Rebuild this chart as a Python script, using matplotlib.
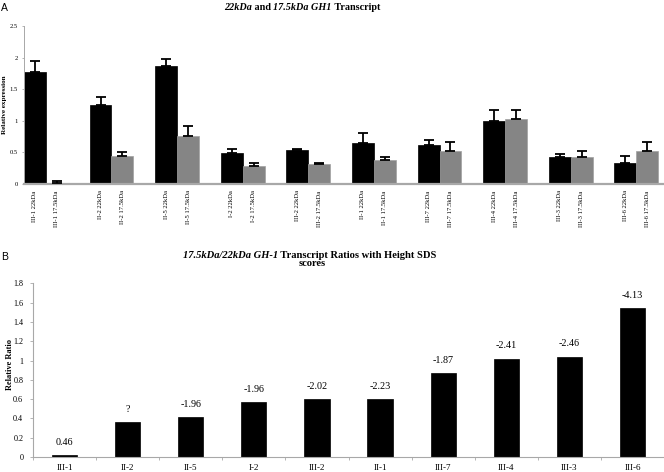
import matplotlib
matplotlib.use("Agg")
import matplotlib.pyplot as plt
import numpy as np

# ---------------- data ----------------
subjects_a = ["III-1", "II-2", "II-5", "I-2", "III-2", "II-1", "III-7", "III-4", "III-3", "III-6"]
expr_22 = [1.78, 1.25, 1.87, 0.49, 0.54, 0.65, 0.61, 1.00, 0.42, 0.34]
err_22 = [0.16, 0.13, 0.10, 0.06, 0.02, 0.15, 0.08, 0.17, 0.05, 0.10]
expr_175 = [0.02, 0.45, 0.76, 0.28, 0.32, 0.38, 0.53, 1.03, 0.43, 0.53]
err_175 = [0.03, 0.06, 0.15, 0.05, 0.015, 0.05, 0.13, 0.14, 0.10, 0.13]

subjects_b = ["III-1", "II-2", "II-5", "I-2", "III-2", "II-1", "III-7", "III-4", "III-3", "III-6"]
ratios = [0.02, 0.36, 0.41, 0.57, 0.60, 0.60, 0.87, 1.02, 1.04, 1.54]
sds_labels = ["0.46", "?", "-1.96", "-1.96", "-2.02", "-2.23", "-1.87", "-2.41", "-2.46", "-4.13"]

W, H = 664, 472
SERIF = "Liberation Serif"
SANS = "Liberation Sans"
GREY_BAR = "#858585"
AXIS_GREY = "#a8a8a8"

fig = plt.figure(figsize=(W / 100, H / 100), dpi=100)

# ---------------- panel A ----------------
axA = fig.add_axes([24 / W, 1 - 184 / H, (W - 24) / W, (184 - 26) / H])
xa22 = np.arange(len(subjects_a)) * 3 + 0.5
xa17 = np.arange(len(subjects_a)) * 3 + 1.5
axA.bar(xa22, expr_22, width=1.0, color="black", edgecolor="black", linewidth=0.5, zorder=2)
axA.bar(xa17, expr_175, width=1.0, color=GREY_BAR, edgecolor="#a0a0a0", linewidth=0.5, zorder=2)
axA.errorbar(xa22, expr_22, yerr=[np.zeros(len(err_22)), err_22], fmt="none",
             ecolor="black", elinewidth=1.3, capsize=3.3, capthick=1.3, zorder=3)
axA.errorbar(xa17, expr_175, yerr=[np.zeros(len(err_175)), err_175], fmt="none",
             ecolor="black", elinewidth=1.3, capsize=3.3, capthick=1.3, zorder=3)
axA.set_xlim(0, (W - 24) / 21.87)
axA.set_ylim(0, 2.5)
axA.set_yticks([0, 0.5, 1, 1.5, 2, 2.5])
axA.set_yticklabels(["0", "0.5", "1", "1.5", "2", "2.5"], family=SERIF, fontsize=4.7)
xt = np.sort(np.concatenate([xa22, xa17]))
labs = []
for s in subjects_a:
    labs += [s + " 22kDa", s + " 17.5kDa"]
axA.set_xticks(xt)
axA.set_xticklabels(labs, rotation=90, family=SERIF, fontsize=4.8, va="top")
axA.tick_params(axis="x", length=0, pad=4.5)
axA.tick_params(axis="y", length=1.5, width=0.6, color=AXIS_GREY, pad=3)
for sp in ["top", "right"]:
    axA.spines[sp].set_visible(False)
axA.spines["left"].set_color(AXIS_GREY)
axA.spines["left"].set_linewidth(0.7)
axA.spines["bottom"].set_color(AXIS_GREY)
axA.spines["bottom"].set_linewidth(1.6)
fig.text(4.5 / W, 1 - 105 / H, "Relative expression", family=SERIF, fontweight="bold",
         fontsize=5.1, rotation=90, ha="center", va="center")

# ---------------- panel B ----------------
axB = fig.add_axes([33 / W, 1 - 457 / H, (W - 33) / W, (457 - 283.3) / H])
xb = np.arange(len(subjects_b))
axB.bar(xb, ratios, width=0.4, color="black", edgecolor="black", linewidth=0.5, zorder=2)
for x, v, s in zip(xb, ratios, sds_labels):
    axB.annotate(s, (x, v), xytext=(0, 6), textcoords="offset points",
                 ha="center", va="bottom", family=SERIF, fontsize=7.3)
axB.set_xlim(-0.5, -0.5 + (W - 33) / 63.3)
axB.set_ylim(0, 1.8)
yt = np.round(np.arange(0, 1.81, 0.2), 1)
axB.set_yticks(yt)
axB.set_yticklabels([("%g" % v) for v in yt], family=SERIF, fontsize=5.9)
axB.set_xticks(xb)
axB.set_xticklabels(subjects_b, family=SERIF, fontsize=6.5)
axB.set_xticks(np.arange(len(subjects_b) + 1) - 0.5, minor=True)
axB.tick_params(axis="x", which="major", length=0, pad=5)
axB.tick_params(axis="x", which="minor", length=2.5, width=0.6, color=AXIS_GREY)
axB.tick_params(axis="y", length=2.5, width=0.6, color=AXIS_GREY, pad=4.5)
for sp in ["top", "right"]:
    axB.spines[sp].set_visible(False)
for sp in ["left", "bottom"]:
    axB.spines[sp].set_color(AXIS_GREY)
    axB.spines[sp].set_linewidth(0.8)
fig.text(10 / W, 1 - 364 / H, "Relative Ratio", family=SERIF, fontweight="bold",
         fontsize=6.0, rotation=90, ha="center", va="center")

# ---------------- panel letters ----------------
fig.text(1 / W, 1 - 8 / H, "A", family=SANS, fontsize=7.5, va="center", ha="left")
fig.text(1 / W, 1 - 257 / H, "B", family=SANS, fontsize=7.5, va="center", ha="left")


# ---------------- rich titles ----------------
def rich_line(pieces, xc_px, yc_px, size):
    texts = []
    for s, ital in pieces:
        t = fig.text(0, 1 - yc_px / H, s, family=SERIF, fontweight="bold",
                     fontstyle="italic" if ital else "normal", fontsize=size,
                     va="center", ha="left")
        texts.append(t)
    r = fig.canvas.get_renderer()
    widths = [t.get_window_extent(r).width for t in texts]
    x = xc_px - sum(widths) / 2
    for t, w in zip(texts, widths):
        t.set_x(x / W)
        x += w


rich_line([("22kDa", True), (" and ", False), ("17.5kDa GH1", True), (" Transcript", False)],
          302, 8, 7.3)
rich_line([("17.5kDa/22kDa GH-1", True), (" Transcript Ratios with Height SDS", False)],
          310, 255, 7.6)
rich_line([("scores", False)], 312, 264, 7.6)

fig.savefig("out.png", dpi=100)
